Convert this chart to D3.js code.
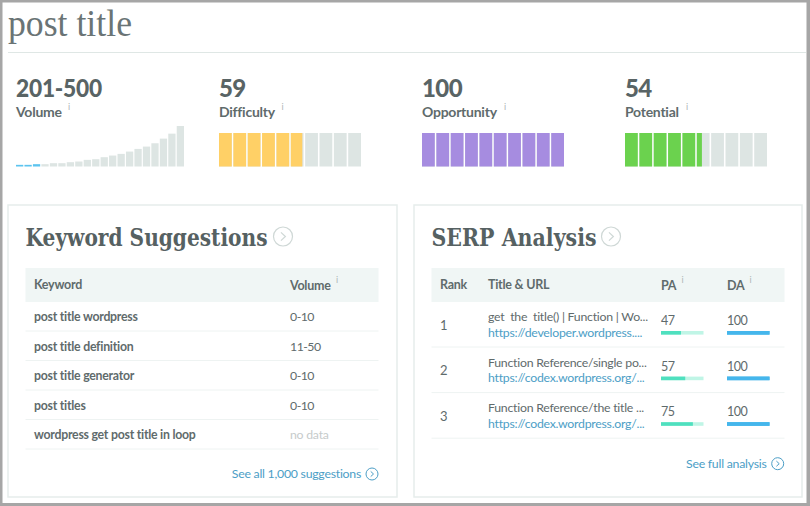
<!DOCTYPE html>
<html>
<head>
<meta charset="utf-8">
<script src="https://cdn.jsdelivr.net/npm/d3@7"></script>
<style>
html,body{margin:0;padding:0;background:#fff}
svg{display:block}
text{font-family:Lato,sans-serif;fill:#5f6b6c;white-space:pre}
</style>
</head>
<body>
<svg></svg>
<script>
var volumeBars = [5,5,7,7,10,10,13,15,20,22,28,33,38,45,53,60,70,84,99,122]
var volumeHighlighted = 3

var metricNames = ['Difficulty','Opportunity','Potential']
var metricValues = [59,100,54]
var metricColors = ['#ffd066','#a68ce0','#6bd24e']

var keywords = ['post title wordpress','post title definition','post title generator','post titles','wordpress get post title in loop']
var keywordVolumes = ['0-10','11-50','0-10','0-10','no data']

var ranks = [1,2,3]
var serpTitles = ['get  the  title() | Function | Wo...','Function Reference/single po...','Function Reference/the title ...']
var serpUrls = ['https://developer.wordpress....','https://codex.wordpress.org/...','https://codex.wordpress.org/...']
var serpPA = [47,57,75]
var serpDA = [100,100,100]

var screen = {width:810, height:506}
var svg = d3.select('svg').attr('width',screen.width).attr('height',screen.height)

var grey = '#dde5e3'
var slab = '"DejaVu Serif",serif'

var addText = function(parent,str,x,y,size,weight,color,anchor){
  return parent.append('text').attr('x',x).attr('y',y)
    .attr('font-size',size).attr('font-weight',weight||400)
    .attr('text-anchor',anchor||'start')
    .attr('letter-spacing',-0.25)
    .style('fill',color||'#5f6b6c')
    .text(str)
}
var addInfo = function(x,y){
  addText(svg,'i',x,y,9,400,'#aeb6b6')
}
// little circle with a chevron in it
var addChevron = function(cx,cy,r,color,w){
  svg.append('circle').attr('cx',cx).attr('cy',cy).attr('r',r)
    .attr('fill','none').attr('stroke',color).attr('stroke-width',w)
  var s = r*0.36
  svg.append('path').attr('d',d3.line()([[cx-s*0.6,cy-s*1.2],[cx+s*0.7,cy],[cx-s*0.6,cy+s*1.2]]))
    .attr('fill','none').attr('stroke',color).attr('stroke-width',w)
}

// heading
addText(svg,'post title',8,36,37,300,'#6a7475').style('font-family','"Liberation Serif",serif')
  .attr('letter-spacing',0).attr('textLength',124).attr('lengthAdjust','spacingAndGlyphs')
svg.append('line').attr('x1',8).attr('x2',806).attr('y1',52.5).attr('y2',52.5).attr('stroke','#dfe7e5')

// volume metric
addText(svg,'201-500',16,97,24,900,'#596465').attr('textLength',86).attr('lengthAdjust','spacingAndGlyphs')
addText(svg,'Volume',16,117,14,700)
addInfo(68,110)

var xVol = d3.scaleBand().domain(d3.range(volumeBars.length)).range([16,184]).paddingInner(0.14).paddingOuter(0)
var yVol = d3.scaleLinear().domain([0,122]).range([166.5,126])
svg.append('g').selectAll('rect').data(volumeBars).enter().append('rect')
  .attr('x',function(d,i){return xVol(i)})
  .attr('width',xVol.bandwidth())
  .attr('y',function(d){return yVol(d)})
  .attr('height',function(d){return yVol(0)-yVol(d)})
  .attr('fill',function(d,i){return i<volumeHighlighted ? '#5cc4ef' : grey})

// segmented metrics
var metricX = [219,422,625]
var segments = d3.range(10)
metricNames.forEach(function(name,m){
  var x0 = metricX[m]
  addText(svg,metricValues[m],x0,97,24,900,'#596465').attr('letter-spacing',-0.6)
  addText(svg,name,x0,117,14,700)
  var xSeg = d3.scaleBand().domain(segments).range([x0,x0+142]).paddingInner(0.11).paddingOuter(0)
  var fill = d3.scaleLinear().domain([0,10]).range([0,xSeg.bandwidth()]).clamp(true)
  var g = svg.append('g')
  g.selectAll('rect.bg').data(segments).enter().append('rect').attr('class','bg')
    .attr('x',function(d){return xSeg(d)}).attr('width',xSeg.bandwidth())
    .attr('y',133).attr('height',33.5).attr('fill',grey)
  g.selectAll('rect.fg').data(segments).enter().append('rect').attr('class','fg')
    .attr('x',function(d){return xSeg(d)})
    .attr('width',function(d){return fill(metricValues[m]-d*10)})
    .attr('y',133).attr('height',33.5).attr('fill',metricColors[m])
})
addInfo(281.5,110)
addInfo(504,110)
addInfo(686,110)

// cards
var cards = [[8,389],[414,388]]
cards.forEach(function(c){
  svg.append('rect').attr('x',c[0]).attr('y',205).attr('width',c[1]).attr('height',292)
    .attr('fill','#fff').attr('stroke','#e6edeb').attr('stroke-width',1.5)
})

// keyword suggestions
addText(svg,'Keyword Suggestions',25.5,245.5,24,700,'#566162').style('font-family',slab).attr('letter-spacing',0).attr('textLength',242).attr('lengthAdjust','spacingAndGlyphs')
addChevron(283,236.5,9.5,'#cfd8d6',1.2)
svg.append('rect').attr('x',25.5).attr('y',268).attr('width',353).attr('height',34).attr('fill','#f0f6f5')
addText(svg,'Keyword',34,289,12.5,700)
addText(svg,'Volume',290,290,12.5,700)
addInfo(336,283)

var rowY = d3.scaleLinear().domain([0,1]).range([321,350.5])
keywords.forEach(function(k,i){
  addText(svg,k,34,rowY(i),12.3,700)
  var nd = keywordVolumes[i]=='no data'
  addText(svg,keywordVolumes[i],290,rowY(i),12.3,400,nd?'#c6cbcb':'#5f6b6c').attr('letter-spacing',nd?-0.25:-0.5)
  svg.append('line').attr('x1',25.5).attr('x2',378.5).attr('y1',rowY(i)+10).attr('y2',rowY(i)+10).attr('stroke','#eef3f2')
})
addText(svg,'See all 1,000 suggestions',361,478,12.3,400,'#4c9ec6','end')
addChevron(372,474,6,'#4c9ec6',1)

// serp analysis
addText(svg,'SERP Analysis',431.5,245.5,24,700,'#566162').style('font-family',slab).attr('letter-spacing',0).attr('textLength',165).attr('lengthAdjust','spacingAndGlyphs')
addChevron(611,236.5,9.5,'#cfd8d6',1.2)
svg.append('rect').attr('x',431.5).attr('y',268).attr('width',353).attr('height',34).attr('fill','#f0f6f5')
addText(svg,'Rank',440,289,12.5,700)
addText(svg,'Title & URL',488,289,12.5,700)
addText(svg,'PA',661,290,12.5,700)
addText(svg,'DA',727,290,12.5,700)
addInfo(681.5,283)
addInfo(749.5,283)

var serpY = d3.scaleLinear().domain([0,1]).range([321,366.6])
var xPA = d3.scaleLinear().domain([0,100]).range([0,42.5])
var scoreBar = function(x,y,val,track,color){
  svg.append('rect').attr('x',x).attr('y',y).attr('width',xPA(100)).attr('height',3.6).attr('fill',track)
  svg.append('rect').attr('x',x).attr('y',y).attr('width',xPA(val)).attr('height',3.6).attr('fill',color)
}
ranks.forEach(function(r,i){
  var y = serpY(i)
  addText(svg,r,440,y+8.5,13,400)
  addText(svg,serpTitles[i],488,y,12.3,400)
  addText(svg,serpUrls[i],488,y+15.8,12.3,400,'#4c9ec6')
  addText(svg,serpPA[i],661,y+4,12.5,400).attr('letter-spacing',-0.5)
  addText(svg,serpDA[i],727,y+4,12.5,400).attr('letter-spacing',-0.5)
  scoreBar(661,y+10,serpPA[i],'#c0f5e6','#4fe0bf')
  scoreBar(727,y+10,serpDA[i],'#45b6ec','#45b6ec')
  svg.append('line').attr('x1',431.5).attr('x2',784.5).attr('y1',y+26).attr('y2',y+26).attr('stroke','#eef3f2')
})
addText(svg,'See full analysis',766.5,468,12.3,400,'#4c9ec6','end')
addChevron(777.7,463.7,6,'#4c9ec6',1)

// screenshot frame
var frame = '#a6a6a6'
svg.append('rect').attr('x',0).attr('y',0).attr('width',810).attr('height',2.5).attr('fill',frame)
svg.append('rect').attr('x',0).attr('y',0).attr('width',2.5).attr('height',506).attr('fill',frame)
svg.append('rect').attr('x',806.5).attr('y',0).attr('width',3.5).attr('height',506).attr('fill',frame)
svg.append('rect').attr('x',0).attr('y',503).attr('width',810).attr('height',3).attr('fill',frame)
</script>
</body>
</html>
